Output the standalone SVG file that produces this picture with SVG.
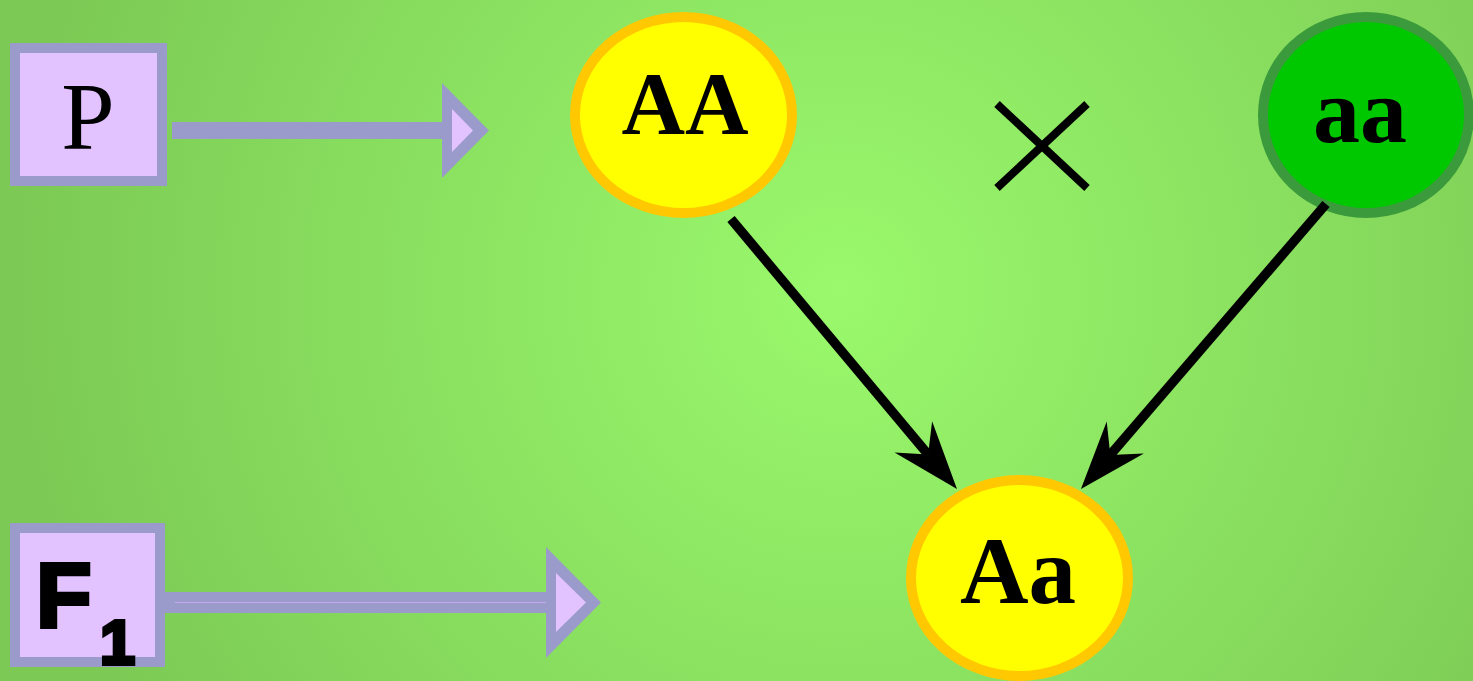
<svg xmlns="http://www.w3.org/2000/svg" width="1473" height="681" viewBox="0 0 1473 681">
<defs>
<radialGradient id="bg" gradientUnits="userSpaceOnUse" cx="840" cy="290" r="820">
<stop offset="0" stop-color="#9af96c"/>
<stop offset="1" stop-color="#7cca55"/>
</radialGradient>
<marker id="stealth" markerUnits="userSpaceOnUse" viewBox="-25 -26 72 52" refX="0" refY="0" markerWidth="72" markerHeight="52" orient="auto">
<path d="M45,0 L-23,-24.5 L0,0 L-23,24.5 Z" fill="#000"/>
</marker>
<style>
.box{fill:#e2c2ff;stroke:#9b9bcb;stroke-width:10}
.shaft{fill:#9b9bcb}
.head-out{fill:#9b9bcb}
.head-in{fill:#e2c2ff}
.yel{fill:#ffff00;stroke:#ffc800;stroke-width:10}
.grn{fill:#00c800;stroke:#3b9a3b;stroke-width:10}
.gen{font-family:"Liberation Serif","Times New Roman",serif;font-weight:bold;text-anchor:middle;fill:#000}
.conn{stroke:#000;stroke-width:9.5;fill:none}
</style>
</defs>
<rect x="0" y="0" width="1473" height="681" fill="url(#bg)"/>

<g id="label-P">
<rect class="box" x="15" y="48" width="147" height="133"/>
<text x="88" y="149" font-family="Liberation Serif, serif" font-size="96" text-anchor="middle" fill="#000">P</text>
</g>
<g id="arrow-P">
<rect class="shaft" x="172" y="122" width="272" height="17"/>
<polygon class="head-out" points="442,83 489,130.5 442,178"/>
<polygon class="head-in" points="452,109 473,130.5 452,152"/>
</g>

<g id="label-F1">
<rect class="box" x="15" y="528" width="145" height="134"/>
<text x="36" y="627" font-family="Liberation Sans, Arial, sans-serif" font-weight="bold" font-size="91" fill="#000" stroke="#000" stroke-width="4">F</text>
<text x="100" y="664" font-family="Liberation Sans, Arial, sans-serif" font-weight="bold" font-size="63" fill="#000" stroke="#000" stroke-width="4">1</text>
</g>
<g id="arrow-F1">
<rect class="shaft" x="165" y="592" width="383" height="21"/>
<line x1="175" y1="602.5" x2="556" y2="602.5" stroke="#c4a9ee" stroke-width="1"/>
<polygon class="head-out" points="546,547 601,602.5 546,658"/>
<polygon class="head-in" points="556,573 586,602.5 556,632"/>
</g>

<g id="node-AA">
<ellipse class="yel" cx="683.5" cy="115" rx="108.5" ry="98"/>
<text class="gen" x="685" y="133" font-size="88">AA</text>
</g>

<g id="cross">
<line x1="997" y1="104" x2="1087" y2="188" stroke="#000" stroke-width="8"/>
<line x1="1087" y1="104" x2="997" y2="188" stroke="#000" stroke-width="8"/>
</g>

<g id="node-aa">
<ellipse class="grn" cx="1366" cy="115" rx="103" ry="98"/>
<text class="gen" x="1360" y="142" font-size="94">aa</text>
</g>

<g id="node-Aa">
<ellipse class="yel" cx="1019.5" cy="578" rx="108.5" ry="98"/>
<text class="gen" x="1018" y="603" font-size="95">Aa</text>
</g>

<g id="connectors">
<line class="conn" x1="731" y1="219" x2="928.1" y2="454.5" marker-end="url(#stealth)"/>
<line class="conn" x1="1326" y1="204" x2="1110.3" y2="454.9" marker-end="url(#stealth)"/>
</g>
</svg>
